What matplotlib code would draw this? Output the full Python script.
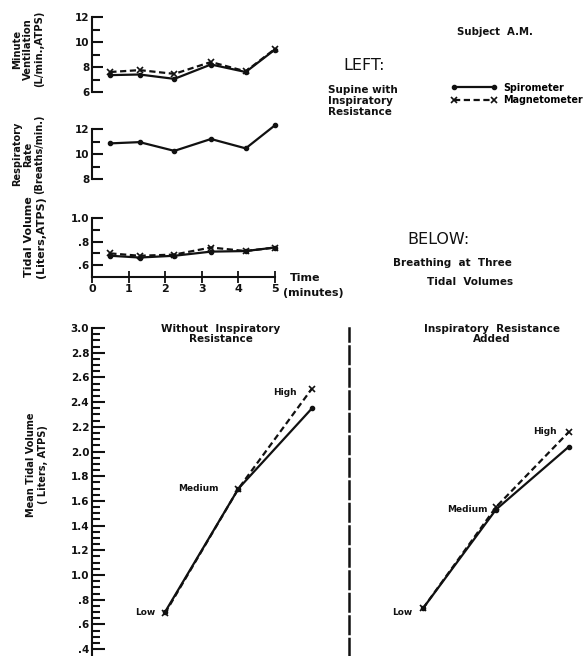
import matplotlib
matplotlib.use('Agg')
import matplotlib.pyplot as plt
from matplotlib.lines import Line2D
import numpy as np

plt.rcParams['font.family'] = ['DejaVu Sans']
plt.rcParams['font.weight'] = 'bold'

# ---------------- data ----------------
time_min = [0.5, 1.3, 2.25, 3.25, 4.2, 5.0]
mv_spiro = [7.35, 7.4, 7.05, 8.2, 7.6, 9.4]
mv_magnet = [7.6, 7.75, 7.45, 8.4, 7.65, 9.45]
rr_spiro = [10.85, 10.95, 10.25, 11.2, 10.45, 12.3]
tv_spiro = [0.68, 0.665, 0.68, 0.715, 0.72, 0.75]
tv_magnet = [0.70, 0.68, 0.69, 0.75, 0.72, 0.75]

levels = ['Low', 'Medium', 'High']
nores_spiro = [0.70, 1.70, 2.35]
nores_magnet = [0.69, 1.70, 2.51]
res_spiro = [0.73, 1.53, 2.04]
res_magnet = [0.73, 1.55, 2.16]

mv_ticks = [6, 8, 10, 12]
rr_ticks = [8, 10, 12]
tv_ticks = [0.6, 0.8, 1.0]
tv_ticklabels = ['.6', '.8', '1.0']
time_ticks = [0, 1, 2, 3, 4, 5]
mean_ticks = [0.4, 0.6, 0.8, 1.0, 1.2, 1.4, 1.6, 1.8, 2.0, 2.2, 2.4, 2.6, 2.8, 3.0]
mean_ticklabels = ['.4', '.6', '.8', '1.0', '1.2', '1.4', '1.6', '1.8', '2.0',
                   '2.2', '2.4', '2.6', '2.8', '3.0']

# ---------------- layout helpers ----------------
W, H = 585, 656
fig = plt.figure(figsize=(W / 100, H / 100), dpi=100)
K = '#111111'
PT = 0.72  # points per pixel


def rect(l, t, r, b):
    return [l / W, 1 - b / H, (r - l) / W, (b - t) / H]


def ftxt(x, y, s, **kw):
    kw.setdefault('color', K)
    return fig.text(x / W, 1 - y / H, s, **kw)


lw = 1.6
spiro_kw = dict(color=K, lw=lw, marker='o', ms=3, ls='-', clip_on=False)
mag_kw = dict(color=K, lw=lw, marker='x', ms=4, mew=1.2, ls=(0, (2.8, 1.6)), clip_on=False)


def style_left(ax, major, minor, labels=None, fs=7.5, mlen=8, nlen=6):
    for s in ['top', 'right', 'bottom']:
        ax.spines[s].set_visible(False)
    ax.spines['left'].set_linewidth(1.5)
    ax.spines['left'].set_color(K)
    ax.set_yticks(major)
    if labels is not None:
        ax.set_yticklabels(labels)
    ax.set_yticks(minor, minor=True)
    ax.tick_params(axis='y', which='major', direction='in', length=mlen, width=1.5,
                   color=K, labelsize=fs, pad=2, labelcolor=K)
    ax.tick_params(axis='y', which='minor', direction='in', length=nlen, width=1.5, color=K)
    ax.tick_params(axis='x', bottom=False, labelbottom=False)
    ax.patch.set_alpha(0)


# ---------------- top panels ----------------
ax_mv = fig.add_axes(rect(92, 17, 275, 92))
ax_mv.plot(time_min, mv_spiro, **spiro_kw)
ax_mv.plot(time_min, mv_magnet, **mag_kw)
ax_mv.set_xlim(0, 5)
ax_mv.set_ylim(6, 12)
style_left(ax_mv, mv_ticks, [7, 9, 11])

ax_rr = fig.add_axes(rect(92, 129, 275, 179))
ax_rr.plot(time_min, rr_spiro, **spiro_kw)
ax_rr.set_xlim(0, 5)
ax_rr.set_ylim(8, 12)
style_left(ax_rr, rr_ticks, [9, 11])

ax_tv = fig.add_axes(rect(92, 218, 275, 277))
ax_tv.plot(time_min, tv_spiro, **spiro_kw)
ax_tv.plot(time_min, tv_magnet, **mag_kw)
ax_tv.set_xlim(0, 5)
ax_tv.set_ylim(0.5, 1.0)
style_left(ax_tv, tv_ticks, [0.7, 0.9], tv_ticklabels)
ax_tv.spines['bottom'].set_visible(True)
ax_tv.spines['bottom'].set_linewidth(1.5)
ax_tv.spines['bottom'].set_color(K)
ax_tv.set_xticks(time_ticks)
ax_tv.tick_params(axis='x', bottom=True, labelbottom=True, direction='inout',
                  length=8, width=1.3, color=K, labelsize=8, pad=1, labelcolor=K)

# y labels of top panels
ftxt(28, 49, 'Minute\nVentilation\n(L/min.,ATPS)', rotation=90, ha='center', va='center',
     fontsize=7.2, linespacing=1.12)
ftxt(28, 154, 'Respiratory\nRate\n(Breaths/min.)', rotation=90, ha='center', va='center',
     fontsize=7.0, linespacing=1.12)
ftxt(35, 237, 'Tidal Volume\n(Liters,ATPS)', rotation=90, ha='center', va='center',
     fontsize=8, linespacing=1.2)

ftxt(290, 278, 'Time', ha='left', va='center', fontsize=8)
ftxt(283, 293, '(minutes)', ha='left', va='center', fontsize=8)

# ---------------- text block upper right ----------------
ftxt(457, 32, 'Subject  A.M.', ha='left', va='center', fontsize=7.3)
ftxt(343, 65, 'LEFT:', ha='left', va='center', fontsize=11.5, fontweight='normal')
ftxt(328, 101, 'Supine with\nInspiratory\nResistance', ha='left', va='center',
     fontsize=7.5, linespacing=1.15)
ftxt(407, 240, 'BELOW:', ha='left', va='center', fontsize=11.5, fontweight='normal')
ftxt(393, 263, 'Breathing  at  Three', ha='left', va='center', fontsize=7.5)
ftxt(427, 282, 'Tidal  Volumes', ha='left', va='center', fontsize=7.5)

h_sp = Line2D([], [], **{k: v for k, v in spiro_kw.items() if k != 'clip_on'})
h_mg = Line2D([], [], **{k: v for k, v in mag_kw.items() if k != 'clip_on'})
fig.legend([h_sp, h_mg], ['Spirometer', 'Magnetometer'], loc='center left',
           bbox_to_anchor=(451 / W, 1 - 94 / H), frameon=False, numpoints=2,
           handlelength=4.8, handletextpad=0.6, labelspacing=0.3,
           prop=dict(size=6.9, weight='bold'), borderpad=0, borderaxespad=0)

# ---------------- bottom panels ----------------
ylo = 3.0 - (656 - 328) / 123.5
x_idx = np.arange(len(levels))

ax_l = fig.add_axes(rect(92, 328, 340, 656))
ax_l.plot(x_idx, nores_spiro, **spiro_kw)
ax_l.plot(x_idx, nores_magnet, **mag_kw)
ax_l.set_ylim(ylo, 3.0)
ax_l.set_xlim((92 - 165) / 73.5, (340 - 165) / 73.5)
style_left(ax_l, mean_ticks, np.arange(0.45, 3.0, 0.05), mean_ticklabels,
           fs=7.5, mlen=9.5, nlen=6)

ax_r = fig.add_axes(rect(349, 328, 585, 656))
ax_r.plot(x_idx, res_spiro, **spiro_kw)
ax_r.plot(x_idx, res_magnet, **mag_kw)
ax_r.set_ylim(ylo, 3.0)
ax_r.set_xlim((349 - 423) / 73, (585 - 423) / 73)
for s in ['top', 'right', 'bottom']:
    ax_r.spines[s].set_visible(False)
ax_r.spines['left'].set_linestyle((0, (7, 2)))
ax_r.spines['left'].set_linewidth(1.8)
ax_r.spines['left'].set_color(K)
ax_r.set_xticks([])
ax_r.set_yticks([])
ax_r.patch.set_alpha(0)

# level labels
lab_off_l = [(-10, 0), (-20, 0), (-15, -4)]
lab_off_r = [(-11, -4), (-8, 0), (-12, 0)]
lab_ref_l = [nores_spiro[0], nores_spiro[1], nores_magnet[2]]
lab_ref_r = [res_spiro[0], res_spiro[1], res_magnet[2]]
for i, name in enumerate(levels):
    dx, dy = lab_off_l[i]
    ax_l.annotate(name, (x_idx[i], lab_ref_l[i]), xytext=(dx * PT, dy * PT),
                  textcoords='offset points', ha='right', va='center', fontsize=6.5, color=K)
    dx, dy = lab_off_r[i]
    ax_r.annotate(name, (x_idx[i], lab_ref_r[i]), xytext=(dx * PT, dy * PT),
                  textcoords='offset points', ha='right', va='center', fontsize=6.5, color=K)

ftxt(221, 334, 'Without  Inspiratory\nResistance', ha='center', va='center',
     fontsize=7.5, linespacing=1.1)
ftxt(492, 334, 'Inspiratory  Resistance\nAdded', ha='center', va='center',
     fontsize=7.5, linespacing=1.1)
ftxt(37, 465, 'Mean Tidal Volume\n( Liters, ATPS)', rotation=90, ha='center', va='center',
     fontsize=7, linespacing=1.2)

fig.savefig('out.png', dpi=100)
